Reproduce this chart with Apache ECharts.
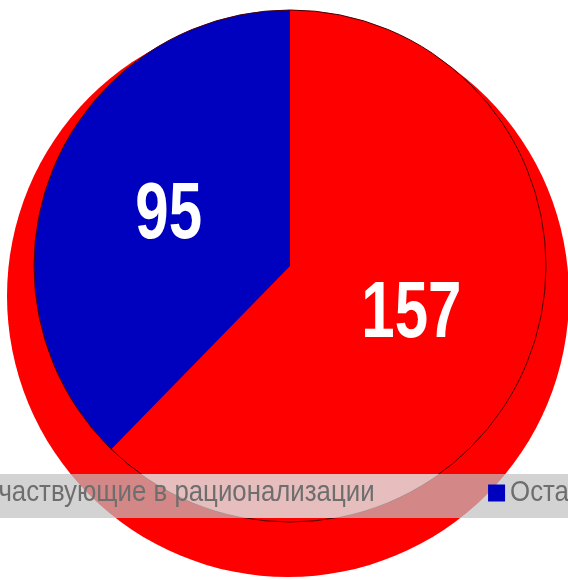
<!DOCTYPE html>
<html>
<head>
<meta charset="utf-8">
<script src="https://cdn.jsdelivr.net/npm/echarts@6/dist/echarts.min.js"></script>
<style>html,body{margin:0;padding:0;background:#fff}#c{width:568px;height:580px}</style>
</head>
<body>
<div id="c"></div>
<script>
const categories = ['Участвующие в рационализации', 'Остальные'];
const values = [157, 95];
const colors = ['#ff0000', '#0000bf'];

const total = values.reduce((a, b) => a + b, 0);
const pieCenter = [290, 266];
const pieRadius = 256;
const FONT = '"Liberation Sans", Arial, sans-serif';
const bandTop = 474, bandBottom = 518;

const chart = echarts.init(document.getElementById('c'), null, {renderer: 'canvas'});
chart.setOption({
  animation: false,
  backgroundColor: '#ffffff',
  legend: {
    data: categories,
    left: -45,
    top: 472,
    width: 1000,
    orient: 'horizontal',
    padding: [5, 5],
    itemGap: 65,
    itemWidth: 17,
    itemHeight: 17,
    icon: 'rect',
    z: 10,
    selectedMode: false,
    textStyle: {
      fontFamily: FONT,
      fontSize: 29,
      color: '#6e6e6e',
      lineHeight: 32
    }
  },
  graphic: [{
    type: 'rect',
    z: 3,
    silent: true,
    shape: {x: 0, y: bandTop, width: 568, height: bandBottom - bandTop},
    style: {fill: 'rgba(193,193,193,0.7)'}
  }],
  series: [
    {
      name: 'backdrop',
      type: 'pie',
      silent: true,
      z: 1,
      center: [288, 296],
      radius: 281,
      label: {show: false},
      labelLine: {show: false},
      itemStyle: {color: colors[0]},
      data: [{name: '', value: total}]
    },
    {
      name: 'main',
      type: 'pie',
      z: 2,
      center: pieCenter,
      radius: pieRadius,
      startAngle: 90,
      clockwise: true,
      emphasis: {disabled: true},
      label: {
        show: true,
        position: 'inside',
        formatter: '{c}',
        color: '#ffffff',
        fontSize: 79,
        fontWeight: 'bold',
        fontFamily: FONT
      },
      labelLine: {show: false},
      data: categories.map((n, i) => ({name: n, value: values[i], itemStyle: {color: colors[i]}}))
    },
    {
      name: 'outline',
      type: 'pie',
      silent: true,
      z: 2,
      center: pieCenter,
      radius: pieRadius,
      label: {show: false},
      labelLine: {show: false},
      itemStyle: {color: 'rgba(0,0,0,0)', borderColor: '#4a0000', borderWidth: 1},
      data: [{name: '', value: total}]
    },
    {
      name: 'highlight',
      type: 'pie',
      silent: true,
      z: 4,
      center: pieCenter,
      radius: pieRadius,
      label: {show: false},
      labelLine: {show: false},
      itemStyle: {
        color: {
          type: 'linear', x: 0, y: 0, x2: 0, y2: 580, global: true,
          colorStops: [
            {offset: 0, color: 'rgba(255,255,255,0)'},
            {offset: bandTop / 580, color: 'rgba(255,255,255,0)'},
            {offset: (bandTop + 0.5) / 580, color: 'rgba(255,255,255,0.45)'},
            {offset: bandBottom / 580, color: 'rgba(255,255,255,0.45)'},
            {offset: (bandBottom + 0.5) / 580, color: 'rgba(255,255,255,0)'},
            {offset: 1, color: 'rgba(255,255,255,0)'}
          ]
        }
      },
      data: [{name: '', value: total}]
    }
  ]
});

// Emulate the narrow (condensed) typeface of the original by squeezing text horizontally.
(function condense() {
  const zr = chart.getZr();
  const list = zr.storage.getDisplayList(true);
  const valueTexts = values.map(String);
  list.forEach(function (el) {
    if (!el.style || typeof el.style.text !== 'string') return;
    const t = el.style.text;
    let s = 0;
    if (valueTexts.indexOf(t) >= 0) s = 0.76;
    else if (categories.indexOf(t) >= 0) s = 0.89;
    if (!s) return;
    el.originX = el.style.x || 0;
    el.originY = el.style.y || 0;
    el.scaleX = s;
    el.markRedraw();
  });
  zr.refreshImmediately();
})();
</script>
</body>
</html>
